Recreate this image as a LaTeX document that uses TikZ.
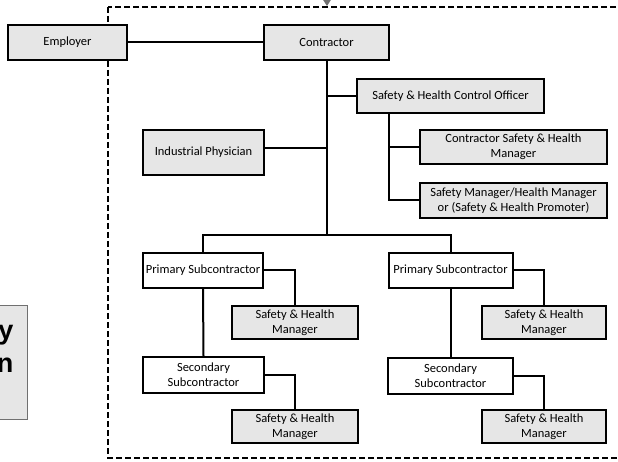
\documentclass[tikz,border=0pt]{standalone}
\usepackage{fontspec}
\setmainfont{Carlito}
\newfontfamily\boldsans{Liberation Sans}
\usetikzlibrary{calc}
\definecolor{boxgray}{HTML}{E6E6E6}
\definecolor{tipgray}{HTML}{707070}
\begin{document}
\begin{tikzpicture}[x=1pt,y=-1pt,
  orgbox/.style={draw=black,line width=2pt,fill=boxgray,inner sep=0pt,
    font=\fontsize{12.5}{15}\selectfont,align=center},
  whitebox/.style={orgbox,fill=white},
  link/.style={draw=black,line width=2pt},
  frame/.style={draw=black,line width=1.5pt,dash pattern=on 6pt off 3pt}]
\useasboundingbox (0,0) rectangle (618,462);
\begin{scope}
\clip (0,0) rectangle (618,462);
% partial box on the left
\node[draw=tipgray,line width=0.8pt,fill=boxgray,minimum width=120pt,minimum height=114pt,inner sep=0pt,anchor=north east] (side) at (28,305) {};
\node[font=\boldsans\bfseries\fontsize{27}{34}\selectfont,anchor=base east,inner sep=0pt] (sidey) at (13.5,339) {y};
\node[font=\boldsans\bfseries\fontsize{27}{34}\selectfont,anchor=base east,inner sep=0pt] (siden) at (13.5,372) {n};
% dashed frame
\coordinate (fnw) at (108,7);
\coordinate (fse) at (640,458);
\draw[frame] (fnw) rectangle (fse);
% top arrow tip
\coordinate (tipb) at (327,6);
\fill[tipgray] (322.5,-1) -- (331.5,-1) -- (tipb) -- cycle;
\end{scope}
% boxes
\node[orgbox,minimum width=119pt,minimum height=35pt] (emp) at (67.5,42.5) {Employer};
\node[orgbox,minimum width=125pt,minimum height=35pt] (con) at (326.5,42.5) {Contractor};
\node[orgbox,minimum width=187pt,minimum height=34pt] (shco) at (450.5,96) {Safety \& Health Control Officer};
\node[orgbox,minimum width=121pt,minimum height=45pt] (ip) at (203.5,152.5) {Industrial Physician};
\node[orgbox,minimum width=187pt,minimum height=34pt] (cshm) at (513.5,147) {Contractor Safety \& Health\\Manager};
\node[orgbox,minimum width=187pt,minimum height=35pt] (smhm) at (513.5,200.5) {Safety Manager/Health Manager\\or (Safety \& Health Promoter)};
\node[whitebox,minimum width=120pt,minimum height=35pt] (ps1) at (203,270.5) {Primary Subcontractor};
\node[orgbox,minimum width=126pt,minimum height=33pt] (shm1) at (295,322.5) {Safety \& Health\\Manager};
\node[whitebox,minimum width=121pt,minimum height=36pt] (ss1) at (203.5,375) {Secondary\\Subcontractor};
\node[orgbox,minimum width=126pt,minimum height=33pt] (shm2) at (295,426.5) {Safety \& Health\\Manager};
\node[whitebox,minimum width=124pt,minimum height=35pt] (ps2) at (450.5,270.5) {Primary Subcontractor};
\node[orgbox,minimum width=124pt,minimum height=33pt] (shm3) at (544,322.5) {Safety \& Health\\Manager};
\node[whitebox,minimum width=125pt,minimum height=36pt] (ss2) at (450.5,375.5) {Secondary\\Subcontractor};
\node[orgbox,minimum width=124pt,minimum height=33pt] (shm4) at (544,426.5) {Safety \& Health\\Manager};
% connectors
\coordinate (bar) at (326.5,235);
\coordinate (sv) at (389,113);
\coordinate (ipe) at ([yshift=4.5pt]ip.east);
\draw[link] (emp.east) -- (con.west);
\draw[link] (con.south) -- (bar);
\draw[link] (con.south |- shco.west) -- (shco.west);
\draw[link] (ipe) -- (con.south |- ipe);
\draw[link] (sv) |- (smhm.west);
\draw[link] (sv |- cshm.west) -- (cshm.west);
\draw[link] (ps1.north) |- (bar) -| (ps2.north);
\draw[link] (ps1.east) -| (shm1.north);
\draw[link] (ps1.south) -- (ss1.north);
\draw[link] (ss1.east) -| (shm2.north);
\draw[link] (ps2.east) -| (shm3.north);
\draw[link] (ps2.south) -- (ss2.north);
\draw[link] (ss2.east) -| (shm4.north);
\end{tikzpicture}
\end{document}
